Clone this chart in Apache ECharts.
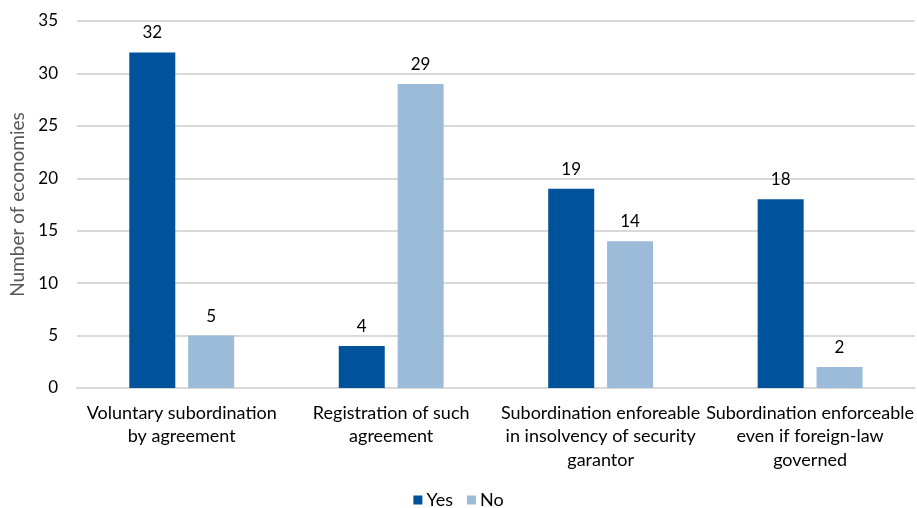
<!DOCTYPE html>
<html>
<head>
<meta charset="utf-8">
<style>
  html, body { margin: 0; padding: 0; background: #ffffff; }
  #chart { width: 917px; height: 508px; }
</style>
<script src="https://cdn.jsdelivr.net/npm/echarts@6/dist/echarts.min.js"></script>
</head>
<body>
<div id="chart"></div>
<script>
// Categories (x axis) and the two answer series
const categories = [
  'Voluntary subordination\nby agreement',
  'Registration of such\nagreement',
  'Subordination enforeable\nin insolvency of security\ngarantor',
  'Subordination enforceable\neven if foreign-law\ngoverned'
];
const yesValues = [32, 4, 19, 18];
const noValues = [5, 29, 14, 2];
const seriesNames = ['Yes', 'No'];
const yTicks = { min: 0, max: 35, interval: 5 };

const FONT = 'Lato, "Open Sans", sans-serif';
const chart = echarts.init(document.getElementById('chart'));

const labelStyle = {
  show: true,
  position: 'top',
  distance: 11,
  color: '#000000',
  fontSize: 17,
  fontFamily: FONT
};

chart.setOption({
  animation: false,
  textStyle: { fontFamily: FONT },
  grid: { left: 77, right: 2, top: 21, bottom: 120, containLabel: false },
  legend: {
    bottom: -6,
    left: 'center',
    itemWidth: 9,
    itemHeight: 9,
    itemGap: 14,
    icon: 'rect',
    textStyle: { color: '#000000', fontSize: 18, fontFamily: FONT, padding: [0, 0, 0, -1] },
    data: seriesNames
  },
  xAxis: {
    type: 'category',
    data: categories,
    axisLine: { show: true, lineStyle: { color: '#d9d9d9', width: 2 } },
    axisTick: { show: false },
    axisLabel: {
      interval: 0,
      color: '#000000',
      fontSize: 18,
      fontFamily: FONT,
      lineHeight: 23.5,
      margin: 13
    }
  },
  yAxis: {
    type: 'value',
    min: yTicks.min,
    max: yTicks.max,
    interval: yTicks.interval,
    name: 'Number of economies',
    nameLocation: 'middle',
    nameGap: 44,
    nameTextStyle: { color: '#595959', fontSize: 19, fontFamily: FONT },
    axisLine: { show: false },
    axisTick: { show: false },
    axisLabel: { color: '#000000', fontSize: 17, fontFamily: FONT, margin: 19 },
    splitLine: { lineStyle: { color: '#d9d9d9', width: 2 } }
  },
  series: [
    {
      name: seriesNames[0],
      type: 'bar',
      data: yesValues,
      barWidth: 46,
      barGap: '28%',
      itemStyle: { color: '#00539b' },
      label: labelStyle
    },
    {
      name: seriesNames[1],
      type: 'bar',
      data: noValues,
      barWidth: 46,
      itemStyle: { color: '#9bbbd9' },
      label: labelStyle
    }
  ]
});
</script>
</body>
</html>
